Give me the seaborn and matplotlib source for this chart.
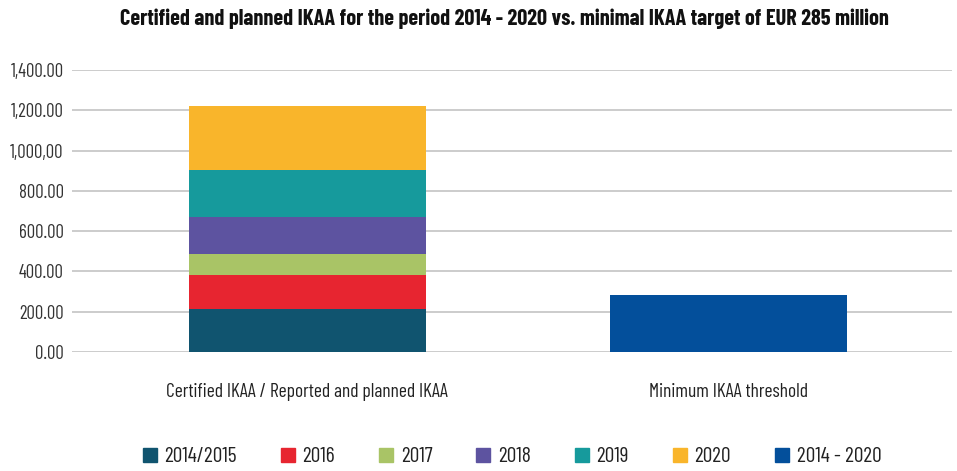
import matplotlib.pyplot as plt
import seaborn as sns
import pandas as pd
from matplotlib.patches import Patch

# Data
categories = ["Certified IKAA / Reported and planned IKAA", "Minimum IKAA threshold"]
years = ["2014/2015", "2016", "2017", "2018", "2019", "2020"]
year_values = [215, 168, 105, 183, 233, 317]
threshold_label = "2014 - 2020"
threshold_value = 285
ytick_values = [0, 200, 400, 600, 800, 1000, 1200, 1400]
ytick_labels = ["0.00", "200.00", "400.00", "600.00", "800.00",
                "1,000,00", "1,200.00", "1,400.00"]

year_colors = ["#10546F", "#E72530", "#A9C466", "#5D53A0", "#169A9C", "#F9B52B"]
threshold_color = "#034F9B"

sns.set_style("white")
plt.rcParams['font.family'] = ['Barlow Condensed', 'Roboto Condensed', 'DejaVu Sans']

fig = plt.figure(figsize=(9.57, 4.71), dpi=100)
ax = fig.add_axes([0.0752, 0.2527, 0.9195, 0.5987])
ax.set_axisbelow(True)

# stacked bar: draw cumulative totals from the top layer down
stack = pd.DataFrame({'year': years, 'value': year_values})
stack['top'] = stack['value'].cumsum()
stack['category'] = categories[0]

for i in range(len(years) - 1, -1, -1):
    sns.barplot(data=stack.iloc[[i]], x='category', y='top', order=categories,
                color=year_colors[i], width=0.562, saturation=1,
                errorbar=None, linewidth=0, ax=ax)

thr = pd.DataFrame({'category': [categories[1]], 'value': [threshold_value]})
sns.barplot(data=thr, x='category', y='value', order=categories,
            color=threshold_color, width=0.562, saturation=1,
            errorbar=None, linewidth=0, ax=ax)

ax.set_xlim(-0.559, 1.53)
ax.set_ylim(0, 1400)
ax.set_yticks(ytick_values)
ax.set_yticklabels(ytick_labels, fontsize=13.5, color='#333333')
ax.tick_params(axis='x', length=0, pad=22, labelsize=14, labelcolor='#222222')
ax.tick_params(axis='y', length=0, pad=6)
ax.yaxis.grid(True, color='#C8C8C8', linewidth=1.3)
ax.set_xlabel('')
ax.set_ylabel('')
for s in ax.spines.values():
    s.set_visible(False)

fig.text(0.527, 0.961,
         "Certified and planned IKAA for the period 2014 - 2020 vs. "
         "minimal IKAA target of EUR 285 million",
         ha='center', va='center', fontsize=16, fontweight='bold',
         color='#111111')

handles = [Patch(color=c) for c in year_colors] + [Patch(color=threshold_color)]
labels = years + [threshold_label]
fig.legend(handles, labels, loc='center', bbox_to_anchor=(0.535, 0.03),
           ncol=7, frameon=False, fontsize=15.5, handlelength=0.65,
           handleheight=0.65, handletextpad=0.35, columnspacing=2.05,
           labelcolor='#222222')

fig.savefig('out.png', dpi=100)
